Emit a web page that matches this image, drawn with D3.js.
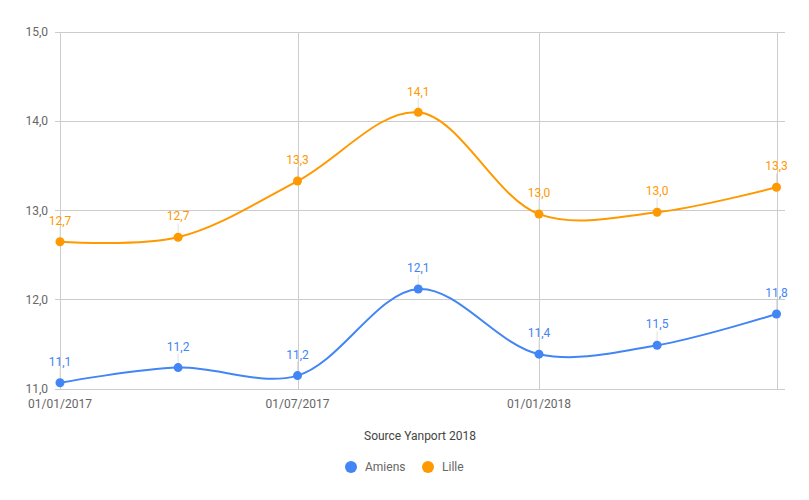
<!DOCTYPE html>
<html><head><meta charset="utf-8">
<script src="https://cdn.jsdelivr.net/npm/d3@7"></script>
<style>body{margin:0;background:#fff;font-family:Roboto,sans-serif;}</style>
</head><body><svg id="c" width="809" height="500"></svg>
<script>
const dates = ["2017-01-01","2017-04-01","2017-07-01","2017-10-01","2018-01-01","2018-04-01","2018-07-01"];
const amiens = [11.07, 11.24, 11.15, 12.12, 11.39, 11.49, 11.84];
const lille = [12.65, 12.70, 13.33, 14.10, 12.96, 12.98, 13.26];
const yTicks = [11, 12, 13, 14, 15];
const xTickDates = ["2017-01-01","2017-07-01","2018-01-01","2018-07-01"];
const xTickLabels = ["01/01/2017","01/07/2017","01/01/2018",""];
const seriesNames = ["Amiens","Lille"];
const colors = ["#4285F4","#FF9900"];
const title = "Source Yanport 2018";

const svg = d3.select("#c");
const parse = d3.utcParse("%Y-%m-%d");
const x = d3.scaleUtc().domain([parse("2017-01-01"), parse("2018-07-01")]).range([60, 776.5]);
const y = d3.scaleLinear().domain([11, 15]).range([389, 32]);
const fmt = v => d3.format(".1f")(v).replace(".", ",");

// horizontal grid
svg.append("g").selectAll("line").data(yTicks).join("line")
  .attr("x1", 55).attr("x2", 785).attr("y1", d => y(d)).attr("y2", d => y(d))
  .attr("stroke", "#cccccc").attr("stroke-width", 1).attr("shape-rendering","crispEdges");
// vertical grid
svg.append("g").selectAll("line").data(xTickDates).join("line")
  .attr("x1", d => Math.round(x(parse(d)))+0.5).attr("x2", d => Math.round(x(parse(d)))+0.5)
  .attr("y1", 32).attr("y2", 389).attr("stroke", "#cccccc").attr("stroke-width", 1);
// y labels
svg.append("g").selectAll("text").data(yTicks).join("text")
  .attr("x", 48).attr("y", d => y(d)).attr("dy", "0.35em").attr("text-anchor", "end")
  .attr("font-size", 12).attr("fill", "#666").text(d => fmt(d));
// x labels
svg.append("g").selectAll("text").data(xTickDates).join("text")
  .attr("x", d => x(parse(d))).attr("y", 404).attr("dy", "0.35em").attr("text-anchor", "middle")
  .attr("font-size", 12).attr("fill", "#666").text((d, i) => xTickLabels[i]);

const line = d3.line().x(d => x(d.date)).y(d => y(d.v)).curve(d3.curveCatmullRom.alpha(0.5));
[amiens, lille].forEach((vals, si) => {
  const data = vals.map((v, i) => ({date: parse(dates[i]), v}));
  const g = svg.append("g");
  // stems
  g.selectAll("line.stem").data(data).join("line")
    .attr("x1", d => x(d.date)).attr("x2", d => x(d.date))
    .attr("y1", d => y(d.v) - 4).attr("y2", d => y(d.v) - 14)
    .attr("stroke", "#e0e0e0").attr("stroke-width", 1);
  g.append("path").datum(data).attr("d", line).attr("fill", "none")
    .attr("stroke", colors[si]).attr("stroke-width", 2);
  g.selectAll("circle").data(data).join("circle")
    .attr("cx", d => x(d.date)).attr("cy", d => y(d.v)).attr("r", 4.5).attr("fill", colors[si]);
  g.selectAll("text").data(data).join("text")
    .attr("x", d => x(d.date)).attr("y", d => y(d.v) - 21).attr("dy", "0.35em")
    .attr("text-anchor", "middle").attr("font-size", 12).attr("fill", colors[si])
    .text(d => fmt(d.v));
});

svg.append("text").attr("x", 420).attr("y", 436).attr("dy", "0.35em").attr("text-anchor", "middle")
  .attr("font-size", 12).attr("fill", "#444").text(title);

const legX = [351, 428];
seriesNames.forEach((n, i) => {
  svg.append("circle").attr("cx", legX[i]).attr("cy", 467).attr("r", 6).attr("fill", colors[i]);
  svg.append("text").attr("x", legX[i] + 14).attr("y", 467).attr("dy", "0.35em")
    .attr("font-size", 12).attr("fill", "#666").text(n);
});
</script></body></html>
